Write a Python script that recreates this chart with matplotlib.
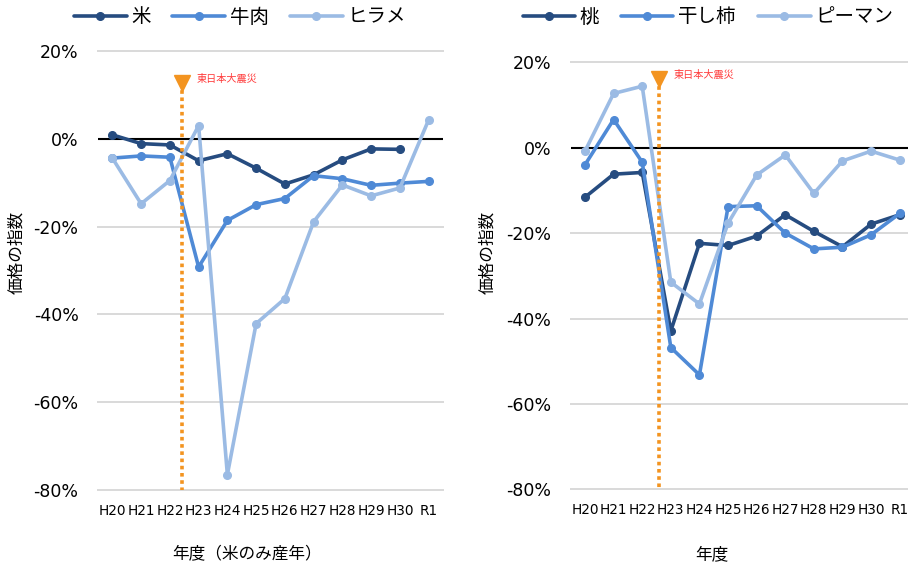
import matplotlib
matplotlib.use("Agg")
import matplotlib.pyplot as plt
from matplotlib.ticker import FuncFormatter

plt.rcParams['font.family'] = ['DejaVu Sans', 'Noto Sans CJK JP']

years = ["H20", "H21", "H22", "H23", "H24", "H25", "H26", "H27", "H28", "H29", "H30", "R1"]

# 左: 米・牛肉・ヒラメ (%)
rice = [0.9, -1.1, -1.4, -5.0, -3.4, -6.7, -10.3, -8.2, -4.8, -2.3, -2.4, None]
beef = [-4.4, -3.9, -4.2, -29.2, -18.6, -15.0, -13.6, -8.4, -9.1, -10.6, -10.1, -9.7]
flounder = [-4.4, -14.8, -9.5, 3.0, -76.5, -42.1, -36.4, -18.9, -10.5, -13.0, -11.2, 4.3]

# 右: 桃・干し柿・ピーマン (%)
peach = [-11.6, -6.2, -5.8, -42.9, -22.4, -22.9, -20.7, -15.7, -19.6, -23.2, -17.9, -15.7]
dried_persimmon = [-4.0, 6.6, -3.4, -46.8, -53.2, -13.8, -13.6, -20.0, -23.7, -23.3, -20.4, -15.4]
pepper = [-0.8, 12.7, 14.4, -31.5, -36.6, -17.7, -6.4, -1.7, -10.7, -3.1, -0.8, -2.9]

left_names = ["米", "牛肉", "ヒラメ"]
right_names = ["桃", "干し柿", "ピーマン"]
colors = ["#264C80", "#4F8AD6", "#9BBBE4"]
yticks = [-80, -60, -40, -20, 0, 20]

quake_label = "東日本大震災"
quake_left = (2.42, 12.7)
quake_right = (2.59, 16.1)

fig = plt.figure(figsize=(9.08, 5.65), dpi=100)
W, H = 908, 565
JP = ["Noto Sans CJK JP", "DejaVu Sans"]


def px_axes(x0, x1, ytop, ybot):
    return fig.add_axes([x0 / W, (H - ybot) / H, (x1 - x0) / W, (ybot - ytop) / H])


def draw_panel(ax, series, names, quake, xlabel, xlabel_x, ylabel_x, legend_center):
    x = list(range(len(years)))
    ax.set_xlim(-0.5, len(years) - 0.5)
    ax.set_ylim(-80, 20)
    for v in yticks:
        if v == 0:
            continue
        ax.axhline(v, color="#D9D9D9", lw=1.4, zorder=1, clip_on=False)
    ax.axhline(0, color="black", lw=1.5, zorder=2)
    handles = []
    for vals, name, c in zip(series, names, colors):
        xs = [i for i, v in zip(x, vals) if v is not None]
        ys = [v for v in vals if v is not None]
        h, = ax.plot(xs, ys, color=c, lw=2.6, marker="o", ms=5.5,
                     solid_capstyle="round", solid_joinstyle="round", zorder=3,
                     label=name)
        handles.append(h)
    qx, qy = quake
    ax.plot([qx, qx], [qy, -80], color="#F39420", lw=2.6, ls=(0, (1, 1)), zorder=4)
    ax.plot([qx], [qy], marker="v", color="#F39420", ms=11, zorder=5, clip_on=False)
    ax.text(qx + 0.5, qy + 1.0, quake_label, color="#FF3B3B", fontsize=7.3,
            family=JP, ha="left", va="center", zorder=5)
    for s in ax.spines.values():
        s.set_visible(False)
    ax.set_xticks(x)
    ax.set_xticklabels(years, fontsize=9.8)
    ax.set_yticks(yticks)
    ax.yaxis.set_major_formatter(FuncFormatter(lambda v, p: f"{int(v)}%"))
    ax.tick_params(axis="y", labelsize=12.5, length=0, pad=14)
    ax.tick_params(axis="x", length=0, pad=10)
    fig.text(ylabel_x / W, 1 - 252 / H, "価格の指数", fontsize=12, family=JP,
             rotation=90, ha="center", va="center")
    fig.text(xlabel_x / W, 1 - 555 / H, xlabel, fontsize=12, family=JP,
             ha="center", va="center")
    fig.legend(handles=handles, loc="center", bbox_to_anchor=(legend_center / W, 1 - 17 / H),
               ncol=3, frameon=False, handlelength=2.7, columnspacing=1.1, handletextpad=0.25,
               prop={"family": JP, "size": 14})


ax1 = px_axes(98, 443, 51, 490)
draw_panel(ax1, [rice, beef, flounder], left_names, quake_left,
           "年度（米のみ産年）", 247, 17, 240)

ax2 = px_axes(570.7, 914, 62.3, 489.3)
draw_panel(ax2, [peach, dried_persimmon, pepper], right_names, quake_right,
           "年度", 712, 488, 708)

fig.savefig("out.png", dpi=100)
